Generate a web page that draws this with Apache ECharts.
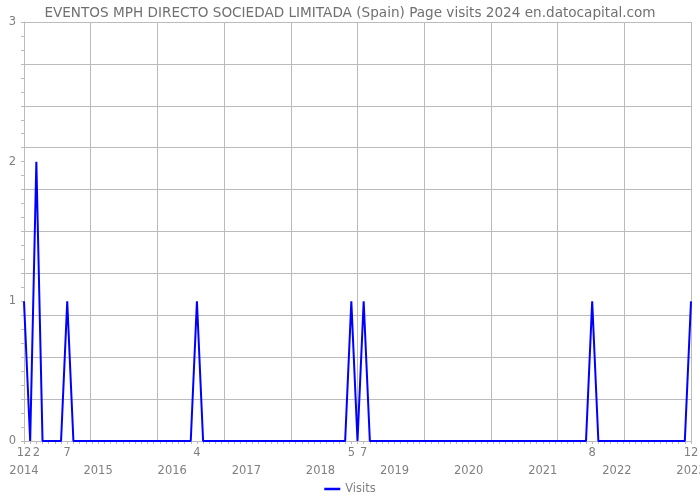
<!DOCTYPE html>
<html>
<head>
<meta charset="utf-8">
<script src="https://cdn.jsdelivr.net/npm/echarts@6/dist/echarts.min.js"></script>
<style>html,body{margin:0;padding:0;background:#fff}#c{width:700px;height:500px}</style>
</head>
<body>
<div id="c"></div>
<script>
var title = 'EVENTOS MPH DIRECTO SOCIEDAD LIMITADA (Spain) Page visits 2024 en.datocapital.com';
var seriesName = 'Visits';
// Monthly categories from 2013-12 to 2022-12
var startYear = 2013, startMonth = 12, monthCount = 109;
var months = [];
(function () {
  var y = startYear, m = startMonth;
  for (var i = 0; i < monthCount; i++) {
    months.push(y + '-' + (m < 10 ? '0' + m : '' + m));
    m++; if (m > 12) { m = 1; y++; }
  }
})();
// Visits per month (2013-12, then 2014 .. 2022)
var visits = [
  1,
  0,2,0,0,0,0,1,0,0,0,0,0,
  0,0,0,0,0,0,0,0,0,0,0,0,
  0,0,0,1,0,0,0,0,0,0,0,0,
  0,0,0,0,0,0,0,0,0,0,0,0,
  0,0,0,0,1,0,1,0,0,0,0,0,
  0,0,0,0,0,0,0,0,0,0,0,0,
  0,0,0,0,0,0,0,0,0,0,0,0,
  0,0,0,0,0,0,0,1,0,0,0,0,
  0,0,0,0,0,0,0,0,0,0,0,1
];
var yTicks = [0, 1, 2, 3];

var FONT = 'DejaVu Sans';
var GRID = '#bbbbbb';
var TXT = '#808080';

var chart = echarts.init(document.getElementById('c'), null, {renderer: 'canvas'});
chart.setOption({
  animation: false,
  backgroundColor: '#fff',
  title: {
    text: title, left: 'center', top: 1,
    textStyle: {fontFamily: FONT, fontSize: 13.6, fontWeight: 'normal', color: '#707070'}
  },
  legend: {
    data: [seriesName], bottom: 0, left: 'center',
    icon: 'rect', itemWidth: 16, itemHeight: 2.5, itemGap: 4,
    textStyle: {fontFamily: FONT, fontSize: 11.5, color: TXT}
  },
  grid: {left: 24, right: 9, top: 22, bottom: 59, containLabel: false, outerBoundsMode: 'none'},
  xAxis: [
    {
      type: 'category', data: months, boundaryGap: false, position: 'bottom',
      axisLine: {show: true, lineStyle: {color: GRID, width: 1}},
      axisTick: {show: true, interval: 0, length: 3, lineStyle: {color: GRID}},
      splitLine: {show: false},
      axisLabel: {
        interval: 0, margin: 6, hideOverlap: false,
        fontFamily: FONT, fontSize: 11.5, color: TXT,
        formatter: function (v, i) { return visits[i] ? String(parseInt(v.split('-')[1], 10)) : ''; }
      }
    },
    {
      type: 'category', data: months, boundaryGap: false, position: 'bottom', offset: 18,
      axisLine: {show: false},
      axisTick: {show: true, interval: 0, length: 3, lineStyle: {color: GRID}},
      splitLine: {show: false},
      axisLabel: {
        interval: 0, margin: 6, hideOverlap: false,
        fontFamily: FONT, fontSize: 11.5, color: TXT,
        formatter: function (v) {
          var p = v.split('-');
          return p[1] === '12' ? String(parseInt(p[0], 10) + 1) : '';
        }
      }
    },
    {
      type: 'value', min: 0, max: 10, interval: 1, position: 'top',
      axisLine: {show: false}, axisTick: {show: false}, axisLabel: {show: false},
      splitLine: {show: true, lineStyle: {color: GRID, width: 1}}
    }
  ],
  yAxis: [
    {
      type: 'value', min: yTicks[0], max: yTicks[yTicks.length - 1], interval: 1,
      axisLine: {show: true, lineStyle: {color: GRID}},
      axisTick: {show: true, length: 3, lineStyle: {color: GRID}},
      minorTick: {show: true, splitNumber: 10, length: 3, lineStyle: {color: GRID}},
      splitLine: {show: false},
      axisLabel: {margin: 8, fontFamily: FONT, fontSize: 11.5, color: TXT}
    },
    {
      type: 'value', min: 0, max: 3, interval: 0.3, position: 'right',
      axisLine: {show: false}, axisTick: {show: false}, axisLabel: {show: false},
      splitLine: {show: true, lineStyle: {color: GRID, width: 1}}
    }
  ],
  series: [
    {
      name: seriesName, type: 'line', data: visits,
      xAxisIndex: 0, yAxisIndex: 0,
      showSymbol: false, symbol: 'none',
      lineStyle: {color: '#0000ff', width: 2},
      itemStyle: {color: '#0000ff'}
    }
  ]
});
</script>
</body>
</html>
